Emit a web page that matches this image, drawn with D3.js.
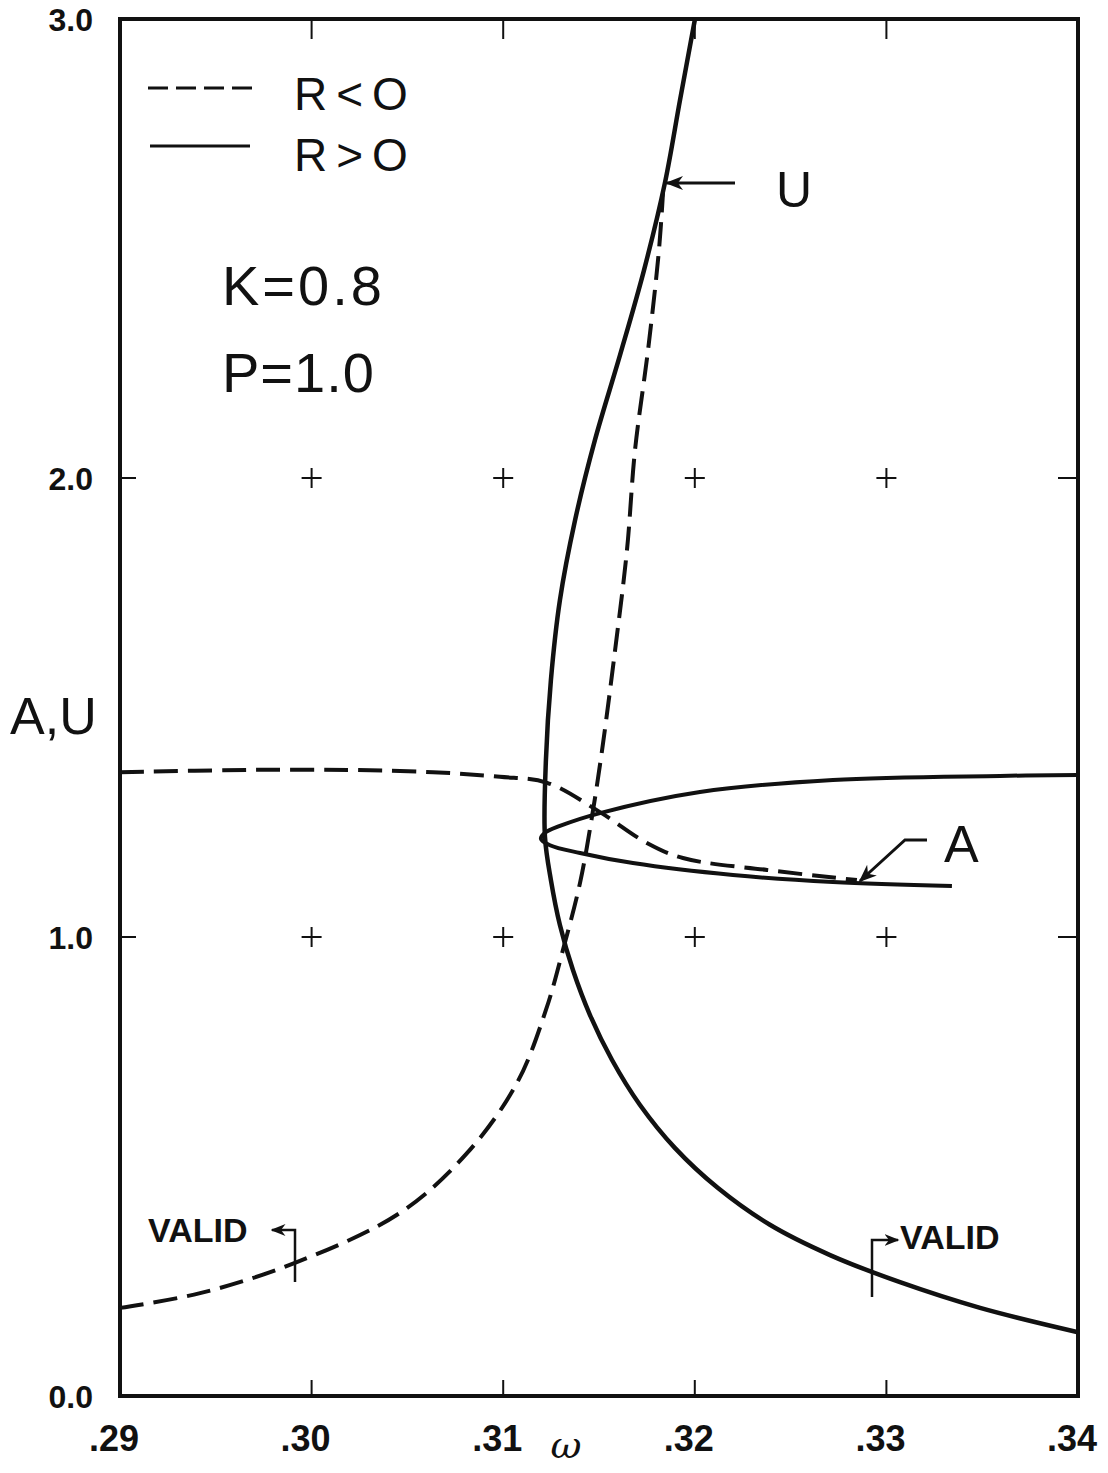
<!DOCTYPE html>
<html>
<head>
<meta charset="utf-8">
<script src="https://cdn.jsdelivr.net/npm/d3@7"></script>
<style>
  body { margin: 0; background: #fff; }
  text { font-family: "Liberation Sans", Arial, sans-serif; fill: #111; }
</style>
</head>
<body>
<svg width="1108" height="1473"></svg>
<script>
// omega values and A,U values
var uSolid = [
  [0.32001, 3.0], [0.31923, 2.824], [0.31844, 2.643], [0.31735, 2.453], [0.31610, 2.268],
  [0.31479, 2.083], [0.31375, 1.908], [0.31296, 1.734], [0.31249, 1.560], [0.31223, 1.386],
  [0.31218, 1.218], [0.31249, 1.124], [0.31296, 1.026], [0.31364, 0.928], [0.31453, 0.830],
  [0.31568, 0.732], [0.31714, 0.634], [0.31897, 0.540], [0.32121, 0.453], [0.32392, 0.373],
  [0.32706, 0.307], [0.33071, 0.248], [0.33489, 0.192], [0.34, 0.139]
];
var uDashed = [
  [0.29, 0.192], [0.29418, 0.224], [0.29913, 0.290], [0.30461, 0.399], [0.30811, 0.529],
  [0.31072, 0.682], [0.31223, 0.841], [0.31312, 0.972], [0.31401, 1.118], [0.31463, 1.261],
  [0.31516, 1.407], [0.31584, 1.625], [0.31646, 1.843], [0.31688, 2.061], [0.31756, 2.279],
  [0.31813, 2.497], [0.31834, 2.621]
];
var aSolid = [
  [0.34, 1.353], [0.33593, 1.351], [0.32721, 1.342], [0.32027, 1.316], [0.31505, 1.270],
  [0.31296, 1.242], [0.31218, 1.227], [0.31197, 1.214], [0.31244, 1.200], [0.31401, 1.183],
  [0.31677, 1.161], [0.32199, 1.135], [0.32721, 1.120], [0.33342, 1.111]
];
var aDashed = [
  [0.29, 1.359], [0.29678, 1.364], [0.30200, 1.364], [0.30634, 1.359], [0.30983, 1.349],
  [0.31229, 1.336], [0.31505, 1.272], [0.31750, 1.205], [0.31938, 1.172], [0.32377, 1.146],
  [0.32846, 1.124]
];
var xTicks = [0.29, 0.30, 0.31, 0.32, 0.33, 0.34];
var xTickLabels = [".29", ".30", ".31", ".32", ".33", ".34"];
var yTicks = [0, 1, 2, 3];
var yTickLabels = ["0.0", "1.0", "2.0", "3.0"];
var crossX = [0.30, 0.31, 0.32, 0.33];
var crossY = [1.0, 2.0];

var svg = d3.select("svg"),
    width = +svg.attr("width"),
    height = +svg.attr("height");

var x = d3.scaleLinear().domain([0.29, 0.34]).range([120, 1078]);
var y = d3.scaleLinear().domain([0, 3]).range([1396, 19]);

var defs = svg.append("defs");
defs.append("marker")
    .attr("id", "head")
    .attr("viewBox", "0 0 10 10")
    .attr("refX", 9).attr("refY", 5)
    .attr("markerWidth", 6).attr("markerHeight", 6)
    .attr("markerUnits", "strokeWidth")
    .attr("orient", "auto")
  .append("path")
    .attr("d", "M0,1 L10,5 L0,9 L3,5 Z")
    .attr("fill", "#111");

var line = d3.line()
    .x(d => x(d[0]))
    .y(d => y(d[1]))
    .curve(d3.curveCatmullRom.alpha(0.5));

// frame
svg.append("rect")
    .attr("x", x(0.29)).attr("y", y(3))
    .attr("width", x(0.34) - x(0.29)).attr("height", y(0) - y(3))
    .attr("fill", "none").attr("stroke", "#111").attr("stroke-width", 4);

// ticks on all sides
var tk = svg.append("g").attr("stroke", "#111").attr("stroke-width", 2);
crossX.forEach(v => {
  tk.append("line").attr("x1", x(v)).attr("x2", x(v)).attr("y1", y(0)).attr("y2", y(0) - 16);
  tk.append("line").attr("x1", x(v)).attr("x2", x(v)).attr("y1", y(3)).attr("y2", y(3) + 20);
});
crossY.forEach(v => {
  tk.append("line").attr("x1", x(0.29)).attr("x2", x(0.29) + 16).attr("y1", y(v)).attr("y2", y(v));
  tk.append("line").attr("x1", x(0.34)).attr("x2", x(0.34) - 20).attr("y1", y(v)).attr("y2", y(v));
});

// grid crosses
crossY.forEach(yy => crossX.forEach(xx => {
  tk.append("line").attr("x1", x(xx) - 10).attr("x2", x(xx) + 10).attr("y1", y(yy)).attr("y2", y(yy));
  tk.append("line").attr("x1", x(xx)).attr("x2", x(xx)).attr("y1", y(yy) - 10).attr("y2", y(yy) + 10);
}));

// tick labels
svg.selectAll(".xl").data(xTicks).enter().append("text")
    .attr("x", d => x(d) - 6).attr("y", 1451)
    .attr("text-anchor", "middle")
    .style("font-size", "36px").style("font-weight", "bold")
    .text((d, i) => xTickLabels[i]);
svg.selectAll(".yl").data(yTicks).enter().append("text")
    .attr("x", 93).attr("y", d => y(d) + 12)
    .attr("text-anchor", "end")
    .style("font-size", "32px").style("font-weight", "bold")
    .text((d, i) => yTickLabels[i]);

// axis titles
svg.append("text").attr("x", 10).attr("y", 734)
    .style("font-size", "52px").text("A,U");
svg.append("text").attr("x", 566).attr("y", 1458)
    .attr("text-anchor", "middle")
    .style("font-size", "38px").style("font-style", "italic")
    .style("font-family", "DejaVu Serif, serif").text("ω");

// curves
svg.append("path").attr("d", line(uDashed))
    .attr("fill", "none").attr("stroke", "#111").attr("stroke-width", 4)
    .attr("stroke-dasharray", "24,10");
svg.append("path").attr("d", line(aDashed))
    .attr("fill", "none").attr("stroke", "#111").attr("stroke-width", 4)
    .attr("stroke-dasharray", "24,10");
svg.append("path").attr("d", line(uSolid))
    .attr("fill", "none").attr("stroke", "#111").attr("stroke-width", 4.5);
svg.append("path").attr("d", line(aSolid))
    .attr("fill", "none").attr("stroke", "#111").attr("stroke-width", 4);

// legend
svg.append("line").attr("x1", 148).attr("x2", 257).attr("y1", 88).attr("y2", 88)
    .attr("stroke", "#111").attr("stroke-width", 3).attr("stroke-dasharray", "20,8");
svg.append("line").attr("x1", 150).attr("x2", 250).attr("y1", 146).attr("y2", 146)
    .attr("stroke", "#111").attr("stroke-width", 3);
svg.append("text").attr("x", 294).attr("y", 110)
    .style("font-size", "46px").style("letter-spacing", "9px").text("R<O");
svg.append("text").attr("x", 294).attr("y", 171)
    .style("font-size", "46px").style("letter-spacing", "9px").text("R>O");

// parameters
svg.append("text").attr("x", 222).attr("y", 305)
    .style("font-size", "56px").style("letter-spacing", "3px").text("K=0.8");
svg.append("text").attr("x", 222).attr("y", 392)
    .style("font-size", "56px").style("letter-spacing", "1px").text("P=1.0");

// U pointer
svg.append("line").attr("x1", 735).attr("y1", 183).attr("x2", 667).attr("y2", 183)
    .attr("stroke", "#111").attr("stroke-width", 3).attr("marker-end", "url(#head)");
svg.append("text").attr("x", 776).attr("y", 207).style("font-size", "50px").text("U");

// A pointer
svg.append("polyline").attr("points", "927,840 905,840 860,881")
    .attr("fill", "none").attr("stroke", "#111").attr("stroke-width", 3)
    .attr("marker-end", "url(#head)");
svg.append("text").attr("x", 944).attr("y", 862).style("font-size", "52px").text("A");

// VALID markers
svg.append("polyline").attr("points", "295,1282 295,1230 272,1230")
    .attr("fill", "none").attr("stroke", "#111").attr("stroke-width", 2.5)
    .attr("marker-end", "url(#head)");
svg.append("text").attr("x", 148).attr("y", 1242)
    .style("font-size", "34px").style("font-weight", "bold").text("VALID");
svg.append("polyline").attr("points", "872,1297 872,1240 898,1240")
    .attr("fill", "none").attr("stroke", "#111").attr("stroke-width", 2.5)
    .attr("marker-end", "url(#head)");
svg.append("text").attr("x", 900).attr("y", 1249)
    .style("font-size", "34px").style("font-weight", "bold").text("VALID");
</script>
</body>
</html>
